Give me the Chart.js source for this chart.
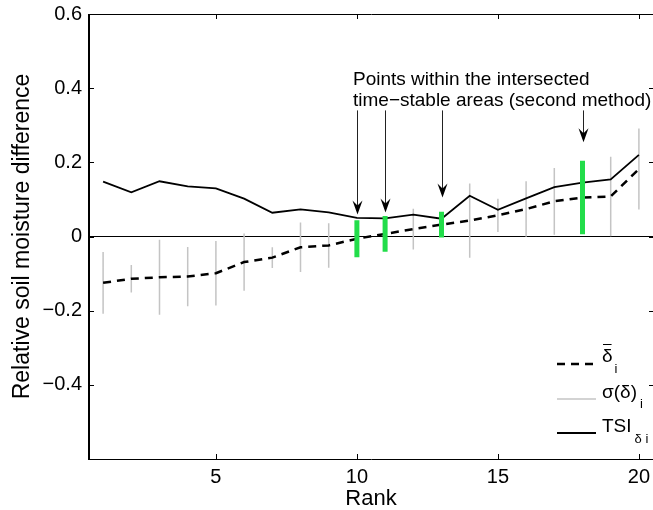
<!DOCTYPE html>
<html><head><meta charset="utf-8">
<script src="https://cdn.jsdelivr.net/npm/chart.js@4.4.1/dist/chart.umd.min.js"></script>
<style>html,body{margin:0;padding:0;overflow:hidden;background:#fff}#wrap{width:653px;height:510px}</style>
</head><body><div id="wrap"><canvas id="c" width="653" height="510"></canvas></div>
<script>
const ranks = [1,2,3,4,5,6,7,8,9,10,11,12,13,14,15,16,17,18,19,20];
const meanDelta = [-0.125,-0.114,-0.110,-0.108,-0.099,-0.069,-0.057,-0.029,-0.024,-0.006,0.007,0.020,0.032,0.043,0.057,0.074,0.095,0.105,0.108,0.182];
const sigmaDelta = [0.083,0.037,0.101,0.080,0.087,0.077,0.028,0.067,0.060,0.050,0.048,0.055,0.035,0.100,0.045,0.075,0.090,0.099,0.107,0.109];
const tsiDelta = [0.148,0.119,0.149,0.135,0.130,0.102,0.064,0.073,0.065,0.050,0.049,0.059,0.048,0.110,0.072,0.103,0.133,0.145,0.154,0.220];
const highlightRanks = [10,11,13,18];
const xTickValues = [5,10,15,20];
const yTickValues = [-0.6,-0.4,-0.2,0,0.2,0.4,0.6];
const annotationLines = ['Points within the intersected','time\u2212stable areas (second method)'];
const arrowRanks = [10,11,13,18];
const arrowTipValues = [0.059,0.065,0.105,0.254];
const arrowStartValue = 0.34;

const FONT = "'Liberation Sans', Arial, Helvetica, sans-serif";
Chart.defaults.font.family = FONT;
Chart.defaults.color = '#000';

function barPoints(keep){
  const pts = [];
  ranks.forEach((r,i)=>{
    if(!keep(r)) return;
    pts.push({x:r,y:meanDelta[i]-sigmaDelta[i]},{x:r,y:meanDelta[i]+sigmaDelta[i]},{x:r,y:null});
  });
  return pts;
}
function fmt(v){
  if (v === 0) return '0';
  return v.toFixed(1).replace('-', '\u2212');
}

const framePlugin = {
  id:'frame',
  afterDraw(chart){
    const {ctx, chartArea:a, scales:{x,y}} = chart;
    ctx.save();
    ctx.strokeStyle = '#000';
    ctx.lineWidth = 1;
    ctx.beginPath();
    ctx.moveTo(a.left, a.top+0.5); ctx.lineTo(a.right+1, a.top+0.5);
    ctx.moveTo(a.left, a.bottom+0.5); ctx.lineTo(a.right+1, a.bottom+0.5);
    ctx.moveTo(a.right+0.5, a.top); ctx.lineTo(a.right+0.5, a.bottom);
    const tl = 5;
    xTickValues.forEach(v=>{
      const px = Math.round(x.getPixelForValue(v))+0.5;
      ctx.moveTo(px, a.bottom); ctx.lineTo(px, a.bottom-tl);
      ctx.moveTo(px, a.top); ctx.lineTo(px, a.top+tl);
    });
    yTickValues.forEach(v=>{
      const py = Math.round(y.getPixelForValue(v))+0.5;
      ctx.moveTo(a.left, py); ctx.lineTo(a.left+tl, py);
      ctx.moveTo(a.right+1, py); ctx.lineTo(a.right+1-tl, py);
    });
    ctx.stroke();
    ctx.lineWidth = 2;
    ctx.beginPath();
    ctx.moveTo(a.left, a.top); ctx.lineTo(a.left, a.bottom+1);
    ctx.stroke();
    ctx.restore();
  }
};

const annotationPlugin = {
  id:'annot',
  afterDatasetsDraw(chart){
    const {ctx, scales:{x,y}} = chart;
    ctx.save();
    ctx.fillStyle = '#000';
    ctx.font = '19px ' + FONT;
    ctx.textBaseline = 'alphabetic';
    ctx.textAlign = 'left';
    ctx.fillText(annotationLines[0], 353, 85);
    ctx.fillText(annotationLines[1], 353, 106);
    arrowRanks.forEach((r,i)=>{
      const px = Math.round(x.getPixelForValue(r))+0.5;
      const y0 = y.getPixelForValue(arrowStartValue);
      const y1 = y.getPixelForValue(arrowTipValues[i]);
      ctx.strokeStyle = '#222';
      ctx.lineWidth = 1;
      ctx.beginPath(); ctx.moveTo(px, y0); ctx.lineTo(px, y1-4); ctx.stroke();
      ctx.fillStyle = '#000';
      ctx.beginPath();
      ctx.moveTo(px, y1);
      ctx.lineTo(px-5, y1-14);
      ctx.lineTo(px, y1-9);
      ctx.lineTo(px+5, y1-14);
      ctx.closePath();
      ctx.fill();
    });
    ctx.restore();
  }
};

const legendPlugin = {
  id:'legendCustom',
  afterDraw(chart){
    const {ctx} = chart;
    ctx.save();
    const x0 = 557, x1 = 596, tx = 602;
    ctx.strokeStyle = '#000'; ctx.lineWidth = 2.5; ctx.setLineDash([8,6]);
    ctx.beginPath(); ctx.moveTo(x0,364); ctx.lineTo(x1,364); ctx.stroke();
    ctx.setLineDash([]);
    ctx.strokeStyle = '#c4c4c4'; ctx.lineWidth = 1.5;
    ctx.beginPath(); ctx.moveTo(x0,399); ctx.lineTo(x1,399); ctx.stroke();
    ctx.strokeStyle = '#000'; ctx.lineWidth = 1.8;
    ctx.beginPath(); ctx.moveTo(x0,433); ctx.lineTo(x1,433); ctx.stroke();
    ctx.fillStyle = '#000';
    ctx.textAlign = 'left'; ctx.textBaseline = 'alphabetic';
    ctx.font = '19px ' + FONT;
    ctx.fillText('\u03b4', tx, 362);
    const dw = ctx.measureText('\u03b4').width;
    ctx.lineWidth = 1; ctx.strokeStyle = '#000';
    ctx.beginPath(); ctx.moveTo(tx+1, 344.5); ctx.lineTo(tx+dw-1, 344.5); ctx.stroke();
    ctx.fillText('\u03c3(\u03b4)', tx, 398);
    const sw = ctx.measureText('\u03c3(\u03b4)').width;
    ctx.fillText('TSI', tx, 432);
    const tw = ctx.measureText('TSI').width;
    ctx.font = '13px ' + FONT;
    ctx.fillText('i', tx+dw+2, 373);
    ctx.fillText('i', tx+sw+3, 408);
    ctx.fillText('\u03b4 i', tx+tw+3, 443);
    ctx.restore();
  }
};

const chart = new Chart(document.getElementById('c'), {
  type:'line',
  data:{
    datasets:[
      {label:'sigma', data:barPoints(r=>!highlightRanks.includes(r)), borderColor:'#c4c4c4', borderWidth:1.5, pointRadius:0, spanGaps:false, order:5, borderCapStyle:'butt'},
      {label:'TSI', data:ranks.map((r,i)=>({x:r,y:tsiDelta[i]})), borderColor:'#000', borderWidth:1.8, pointRadius:0, order:3, tension:0},
      {label:'mean', data:ranks.map((r,i)=>({x:r,y:meanDelta[i]})), borderColor:'#000', borderWidth:2.5, borderDash:[8,6], pointRadius:0, order:2, tension:0},
      {label:'highlight', data:barPoints(r=>highlightRanks.includes(r)), borderColor:'#22dd4a', borderWidth:5, pointRadius:0, spanGaps:false, order:1, borderCapStyle:'butt'}
    ]
  },
  options:{
    responsive:false, animation:false,
    layout:{padding:{top:14,right:0,left:0,bottom:0}},
    plugins:{legend:{display:false}, tooltip:{enabled:false}},
    scales:{
      x:{type:'linear', min:0.5, max:20.5,
        afterBuildTicks:s=>{s.ticks = xTickValues.map(v=>({value:v}));},
        afterFit:s=>{s.height = 51; s.paddingLeft = 0; s.paddingRight = 0;},
        grid:{display:false, drawTicks:false}, border:{display:false},
        ticks:{font:{size:20, lineHeight:1.2}, color:'#000', padding:6, maxRotation:0, autoSkip:false, callback:v=>String(v)},
        title:{display:true, text:'Rank', font:{size:22, lineHeight:1}, color:'#000', padding:{top:0,bottom:0}}
      },
      y:{type:'linear', min:-0.6, max:0.6,
        afterBuildTicks:s=>{s.ticks = yTickValues.map(v=>({value:v}));},
        afterFit:s=>{s.width = 89; s.paddingTop = 0; s.paddingBottom = 0;},
        grid:{drawTicks:false, lineWidth:1, color:c=> (c.tick && c.tick.value === 0) ? '#000' : 'rgba(0,0,0,0)'},
        border:{display:false},
        ticks:{font:{size:20, lineHeight:1}, color:'#000', padding:7, autoSkip:false, callback:v=> v === -0.6 ? '' : fmt(v)},
        title:{display:true, text:'Relative soil moisture difference', font:{size:23, lineHeight:1.2}, color:'#000', padding:{top:9,bottom:0}}
      }
    }
  },
  plugins:[framePlugin, annotationPlugin, legendPlugin]
});
</script>
</body></html>
